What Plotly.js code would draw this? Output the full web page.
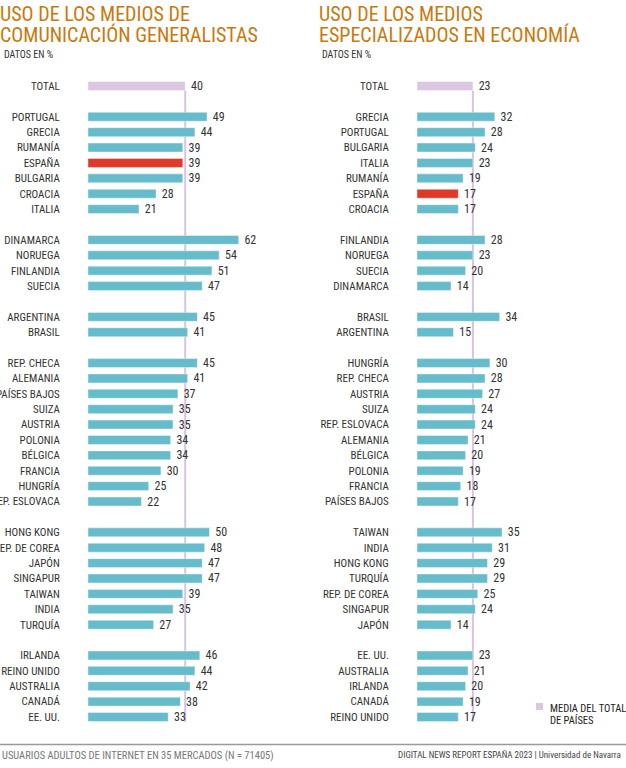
<!DOCTYPE html>
<html>
<head>
<meta charset="utf-8">
<script src="https://cdn.plot.ly/plotly-3.0.1.min.js"></script>
<style>html,body{margin:0;padding:0;background:#fff;}#chart{width:626px;height:768px;}</style>
</head>
<body>
<div id="chart"></div>
<script>
// ---- Data: generalist media (left panel) ----
const genTotal = 40;
const genGroups = [
  ["PORTUGAL","GRECIA","RUMANÍA","ESPAÑA","BULGARIA","CROACIA","ITALIA"],
  ["DINAMARCA","NORUEGA","FINLANDIA","SUECIA"],
  ["ARGENTINA","BRASIL"],
  ["REP. CHECA","ALEMANIA","PAÍSES BAJOS","SUIZA","AUSTRIA","POLONIA","BÉLGICA","FRANCIA","HUNGRÍA","REP. ESLOVACA"],
  ["HONG KONG","REP. DE COREA","JAPÓN","SINGAPUR","TAIWAN","INDIA","TURQUÍA"],
  ["IRLANDA","REINO UNIDO","AUSTRALIA","CANADÁ","EE. UU."]
];
const genValues = [
  [49,44,39,39,39,28,21],
  [62,54,51,47],
  [45,41],
  [45,41,37,35,35,34,34,30,25,22],
  [50,48,47,47,39,35,27],
  [46,44,42,38,33]
];

// ---- Data: economy specialised media (right panel) ----
const ecoTotal = 23;
const ecoGroups = [
  ["GRECIA","PORTUGAL","BULGARIA","ITALIA","RUMANÍA","ESPAÑA","CROACIA"],
  ["FINLANDIA","NORUEGA","SUECIA","DINAMARCA"],
  ["BRASIL","ARGENTINA"],
  ["HUNGRÍA","REP. CHECA","AUSTRIA","SUIZA","REP. ESLOVACA","ALEMANIA","BÉLGICA","POLONIA","FRANCIA","PAÍSES BAJOS"],
  ["TAIWAN","INDIA","HONG KONG","TURQUÍA","REP. DE COREA","SINGAPUR","JAPÓN"],
  ["EE. UU.","AUSTRALIA","IRLANDA","CANADÁ","REINO UNIDO"]
];
const ecoValues = [
  [32,28,24,23,19,17,17],
  [28,23,20,14],
  [34,15],
  [30,28,27,24,24,21,20,19,18,17],
  [35,31,29,29,25,24,14],
  [23,21,20,19,17]
];

const highlight = "ESPAÑA";
const totalLabel = "TOTAL";

const TEAL = "#67bccb", RED = "#de3a27", LILAC = "#dcc7e2", LINE = "#d9c3e4";
const FONT = "Liberation Sans Narrow, 'Roboto Condensed', 'DejaVu Sans Condensed', sans-serif";

function build(groups, values, total) {
  const y = [0], x = [total], labels = [totalLabel], colors = [LILAC];
  let pos = 1;
  groups.forEach((g, gi) => {
    pos += 1; // empty spacer slot
    g.forEach((name, i) => {
      y.push(pos); x.push(values[gi][i]); labels.push(name);
      colors.push(name === highlight ? RED : TEAL);
      pos += 1;
    });
  });
  return {y, x, labels, colors, last: pos - 1};
}

const L = build(genGroups, genValues, genTotal);
const R = build(ecoGroups, ecoValues, ecoTotal);

const W = 626, H = 768;
const ppu = 2.43;
const lx0 = 88, lx1 = 300, rx0 = 417, rx1 = 626;
const yTop = 78.3, yBot = 724.7;

function trace(d, xa, ya) {
  return {
    type: "bar", orientation: "h", x: d.x, y: d.y, xaxis: xa, yaxis: ya,
    width: 0.58,
    marker: {color: d.colors, line: {color: "rgba(255,255,255,0.5)", width: 0.8}},
    texttemplate: " %{x}", textposition: "outside", cliponaxis: false, constraintext: "none",
    textfont: {family: FONT, size: 12, color: "#333"},
    hoverinfo: "skip"
  };
}

const yCommon = (d, anchor) => ({
  domain: [1 - yBot / H, 1 - yTop / H],
  range: [d.last + 0.5, -0.5],
  tickmode: "array", tickvals: d.y, ticktext: d.labels,
  ticks: "outside", ticklen: 25, tickcolor: "rgba(0,0,0,0)",
  tickfont: {family: FONT, size: 11, color: "#333"},
  showgrid: false, zeroline: false, showline: false, anchor: anchor, fixedrange: true
});

const layout = {
  width: W, height: H,
  margin: {l: 0, r: 0, t: 0, b: 0},
  paper_bgcolor: "#fff", plot_bgcolor: "rgba(0,0,0,0)",
  showlegend: false, bargap: 0.4,
  xaxis: {domain: [lx0 / W, lx1 / W], range: [0, (lx1 - lx0) / ppu], visible: false, anchor: "y"},
  yaxis: yCommon(L, "x"),
  xaxis2: {domain: [rx0 / W, rx1 / W], range: [0, (rx1 - rx0) / ppu], visible: false, anchor: "y2"},
  yaxis2: yCommon(R, "x2"),
  shapes: [
    {type: "line", xref: "x", yref: "y", x0: genTotal, x1: genTotal, y0: 0.29, y1: L.last + 0.33,
     line: {color: LINE, width: 2}, layer: "below"},
    {type: "line", xref: "x2", yref: "y2", x0: ecoTotal, x1: ecoTotal, y0: 0.29, y1: R.last + 0.33,
     line: {color: LINE, width: 2}, layer: "below"},
    {type: "line", xref: "paper", yref: "paper", x0: 0, x1: 1, y0: 1 - 744.5 / H, y1: 1 - 744.5 / H,
     line: {color: "#9a9a9a", width: 1.5}},
    {type: "rect", xref: "paper", yref: "paper", x0: 536 / W, x1: 543 / W, y0: 1 - 710 / H, y1: 1 - 703 / H,
     fillcolor: LILAC, line: {width: 0}}
  ],
  annotations: [
    {text: "USO DE LOS MEDIOS DE", x: 0, y: 1 - 13.5 / H},
    {text: "COMUNICACIÓN GENERALISTAS", x: 0, y: 1 - 35 / H},
    {text: "USO DE LOS MEDIOS", x: 319 / W, y: 1 - 13.5 / H},
    {text: "ESPECIALIZADOS EN ECONOMÍA", x: 319 / W, y: 1 - 35 / H}
  ].map(a => Object.assign(a, {xref: "paper", yref: "paper", xanchor: "left", yanchor: "middle",
      showarrow: false, font: {family: FONT, size: 20, color: "#c8790e"}, xshift: -2}))
  .concat([
    {text: "DATOS EN %", x: 2 / W, y: 1 - 54.5 / H},
    {text: "DATOS EN %", x: 320 / W, y: 1 - 54.5 / H}
  ].map(a => Object.assign(a, {xref: "paper", yref: "paper", xanchor: "left", yanchor: "middle",
      showarrow: false, font: {family: FONT, size: 10, color: "#333"}})))
  .concat([
    {text: "MEDIA DEL TOTAL", x: 548 / W, y: 1 - 708 / H},
    {text: "DE PAÍSES", x: 548 / W, y: 1 - 720 / H}
  ].map(a => Object.assign(a, {xref: "paper", yref: "paper", xanchor: "left", yanchor: "middle",
      showarrow: false, font: {family: FONT, size: 10.5, color: "#222"}})))
  .concat([
    {text: "USUARIOS ADULTOS DE INTERNET EN 35 MERCADOS (N = 71405)", x: 0, y: 1 - 755 / H,
     xanchor: "left", font: {family: FONT, size: 10.5, color: "#777"}},
    {text: "DIGITAL NEWS REPORT ESPAÑA 2023 | Universidad de Navarra", x: 623 / W, y: 1 - 755 / H,
     xanchor: "right", font: {family: FONT, size: 9, color: "#444"}}
  ].map(a => Object.assign(a, {xref: "paper", yref: "paper", yanchor: "middle", showarrow: false})))
};

Plotly.newPlot("chart", [trace(L, "x", "y"), trace(R, "x2", "y2")], layout,
  {displayModeBar: false, staticPlot: true});
</script>
</body>
</html>
